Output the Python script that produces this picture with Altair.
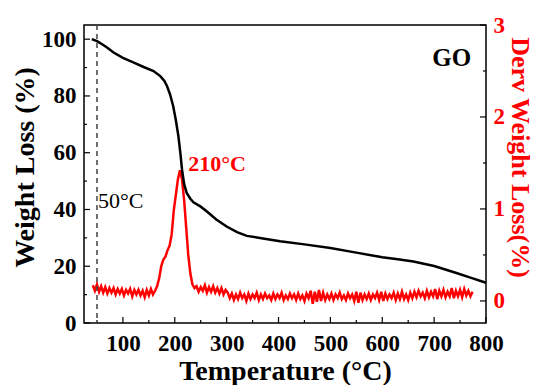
import altair as alt
import pandas as pd

# TGA curve (Temperature °C, Weight %)
tga_T = [40, 50, 60, 70, 82, 100, 120, 140, 159, 172, 180, 185, 191, 197, 202, 207,
         211, 214, 218, 223, 230, 236, 250, 262, 280, 300, 320, 339, 370, 403, 450,
         500, 550, 600, 630, 660, 700, 743, 770, 800]
tga_W = [100.0, 99.3, 98.2, 97.0, 95.3, 93.4, 91.8, 90.2, 88.8, 87.0, 85.3, 83.5, 80.5,
         76.4, 71.5, 65.8, 59.5, 54.0, 49.0, 45.8, 43.8, 42.5, 41.0, 39.3, 36.5, 34.0,
         32.0, 30.7, 29.8, 28.8, 27.7, 26.4, 24.8, 23.2, 22.5, 21.7, 20.1, 17.6, 16.0, 14.2]

# DTG curve, sampled every 4 °C from 42 to 774 °C
dtg_T = list(range(42, 775, 4))
dtg_D = [
    0.17, 0.11, 0.18, 0.10, 0.16, 0.09, 0.15, 0.08, 0.14, 0.09,
    0.14, 0.07, 0.13, 0.08, 0.13, 0.06, 0.12, 0.08, 0.13, 0.05,
    0.12, 0.07, 0.12, 0.06, 0.11, 0.04, 0.12, 0.06, 0.13, 0.07, 0.11,
    0.16, 0.25, 0.38, 0.45, 0.48, 0.55, 0.60, 0.72, 0.98, 1.15,
    1.32, 1.42, 1.32, 1.10, 0.80, 0.50, 0.30, 0.18, 0.14,
    0.16, 0.10, 0.15, 0.11, 0.17, 0.09, 0.15, 0.10, 0.16, 0.09,
    0.14, 0.08, 0.14, 0.07, 0.12,
    0.09, 0.03, 0.08, 0.01, 0.07, 0.02, 0.09, 0.03, 0.07, 0.00,
    0.08, 0.02, 0.07, 0.03, 0.09, 0.01, 0.07, 0.02, 0.08, 0.03,
    0.06, 0.01, 0.08, 0.02, 0.07, 0.03, 0.09, 0.01, 0.06, 0.02,
    0.08, 0.03, 0.07, 0.01, 0.08, 0.02, 0.06, 0.00, 0.08, 0.03,
    0.11, -0.03, 0.10, -0.01, 0.12, 0.00, 0.09, 0.01, 0.07, 0.02,
    0.08, 0.01, 0.07, 0.03, 0.09, 0.02, 0.06, 0.01, 0.08, 0.03,
    0.07, 0.00, 0.10, -0.02, 0.09, 0.01, 0.07, 0.02, 0.08, 0.01,
    0.07, 0.03, 0.09, 0.01, 0.10, 0.00, 0.08, 0.02, 0.07, 0.03,
    0.09, 0.01, 0.08, 0.02, 0.10, 0.02, 0.07, 0.01, 0.09, 0.03,
    0.10, 0.04, 0.11, 0.05, 0.09, 0.03, 0.11, 0.04, 0.10, 0.05,
    0.13, 0.02, 0.11, 0.05, 0.12, 0.04, 0.10, 0.05, 0.14, 0.03,
    0.11, 0.05, 0.12, 0.04, 0.13, 0.06, 0.11, 0.05, 0.10,
]

x_ticks = [100, 200, 300, 400, 500, 600, 700, 800]
x_minor = [50, 150, 250, 350, 450, 550, 650, 750]
left_ticks = [0, 20, 40, 60, 80, 100]
left_minor = [10, 30, 50, 70, 90]
right_ticks = [0, 1, 2, 3]
right_minor = [0.5, 1.5, 2.5]

ann_text = ["50°C", "GO"]
ann_T = [52, 734]
ann_W = [40.6, 90.5]
peak_text = ["210°C"]
peak_T = [226]
peak_W = [53.4]
marker_T = [50]

W, H = 402, 298
FONT = "Liberation Serif"
XDOM = [25, 800]
LDOM = [0, 105]
RDOM = [-0.24, 3]
LBL = 23
TTL = 28

tga = pd.DataFrame({"T": tga_T, "W": tga_W})
dtg = pd.DataFrame({"T": dtg_T[:len(dtg_D)], "D": dtg_D})

xs = alt.Scale(domain=XDOM, nice=False, zero=False)
ls = alt.Scale(domain=LDOM, nice=False, zero=False)
rs = alt.Scale(domain=RDOM, nice=False, zero=False)

x_axis = alt.Axis(values=x_ticks, title="Temperature (°C)", tickSize=0, domain=False,
                  grid=False, labelPadding=9, labelFlush=False, labelFont=FONT,
                  labelFontSize=LBL, labelFontWeight="bold", labelColor="black",
                  titleFont=FONT, titleFontSize=TTL, titleFontWeight="bold",
                  titleColor="black", titleY=56, titleBaseline="alphabetic")


def X(field):
    return alt.X(field, scale=xs, axis=x_axis, title="Temperature (°C)")


red_line = alt.Chart(dtg).mark_line(color="#ff0000", strokeWidth=2.5).encode(
    x=X("T:Q"),
    y=alt.Y("D:Q", scale=rs, axis=alt.Axis(
        orient="right", values=right_ticks, title="Derv Weight Loss(%)", tickSize=0,
        domain=False, grid=False, labelPadding=7, labelFlush=False, labelFont=FONT,
        labelFontSize=LBL, labelFontWeight="bold", labelColor="#ff0000", titleFont=FONT,
        titleFontSize=26, titleFontWeight="bold", titleColor="#ff0000", titleAngle=90,
        titleBaseline="alphabetic", titleX=25, titleY=132)),
)

black_line = alt.Chart(tga).mark_line(color="black", strokeWidth=2.5).encode(
    x=X("T:Q"),
    y=alt.Y("W:Q", scale=ls, axis=alt.Axis(
        orient="left", values=left_ticks, title="Weight Loss (%)", tickSize=0,
        domain=False, grid=False, labelPadding=8, labelFlush=False, labelFont=FONT,
        labelFontSize=LBL, labelFontWeight="bold", labelColor="black", titleFont=FONT,
        titleFontSize=TTL, titleFontWeight="bold", titleColor="black", titleAngle=270,
        titleBaseline="alphabetic", titleX=-51, titleY=142)),
)

rt = alt.Chart(pd.DataFrame({"v": right_ticks})).mark_rule(color="black", strokeWidth=1.2).encode(
    y=alt.Y("v:Q", scale=rs, axis=None), x=alt.value(W), x2=alt.value(W - 6))
rm = alt.Chart(pd.DataFrame({"v": right_minor})).mark_rule(color="black", strokeWidth=1.2).encode(
    y=alt.Y("v:Q", scale=rs, axis=None), x=alt.value(W), x2=alt.value(W - 3))
lt = alt.Chart(pd.DataFrame({"v": left_ticks})).mark_rule(color="black", strokeWidth=1.2).encode(
    y=alt.Y("v:Q", scale=ls, axis=None), x=alt.value(0), x2=alt.value(6))
lm = alt.Chart(pd.DataFrame({"v": left_minor})).mark_rule(color="black", strokeWidth=1.2).encode(
    y=alt.Y("v:Q", scale=ls, axis=None), x=alt.value(0), x2=alt.value(3))
bt = alt.Chart(pd.DataFrame({"T": x_ticks})).mark_rule(color="black", strokeWidth=1.2).encode(
    x=X("T:Q"), y=alt.value(H), y2=alt.value(H - 6))
bm = alt.Chart(pd.DataFrame({"T": x_minor})).mark_rule(color="black", strokeWidth=1.2).encode(
    x=X("T:Q"), y=alt.value(H), y2=alt.value(H - 3))

dash = alt.Chart(pd.DataFrame({"T": marker_T})).mark_rule(
    color="#444444", strokeWidth=1.5, strokeDash=[5, 4]).encode(
    x=X("T:Q"), y=alt.value(0), y2=alt.value(H))

ann_df = pd.DataFrame({"t": ann_text, "T": ann_T, "W": ann_W})
ann50 = alt.Chart(ann_df.iloc[[0]]).mark_text(
    font=FONT, fontSize=22, fontWeight="normal", color="black", align="left",
    baseline="alphabetic").encode(
    x=X("T:Q"), y=alt.Y("W:Q", scale=ls, axis=None), text="t:N")
annGO = alt.Chart(ann_df.iloc[[1]]).mark_text(
    font=FONT, fontSize=25, fontWeight="bold", color="black", align="center",
    baseline="alphabetic").encode(
    x=X("T:Q"), y=alt.Y("W:Q", scale=ls, axis=None), text="t:N")
annPeak = alt.Chart(pd.DataFrame({"t": peak_text, "T": peak_T, "W": peak_W})).mark_text(
    font=FONT, fontSize=22, fontWeight="bold", color="#ff0000", align="left",
    baseline="alphabetic").encode(
    x=X("T:Q"), y=alt.Y("W:Q", scale=ls, axis=None), text="t:N")

chart = alt.layer(
    red_line, black_line, rt, rm, lt, lm, bt, bm, dash, ann50, annGO, annPeak
).resolve_scale(y="independent").properties(
    width=W, height=H,
    padding={"left": 76, "top": 17, "right": 48, "bottom": 64},
    autosize=alt.AutoSizeParams(type="none"),
    background="white",
).configure_view(stroke="black", strokeWidth=1.5)

chart.save("out.html", embed_options={"renderer": "svg", "actions": False})
